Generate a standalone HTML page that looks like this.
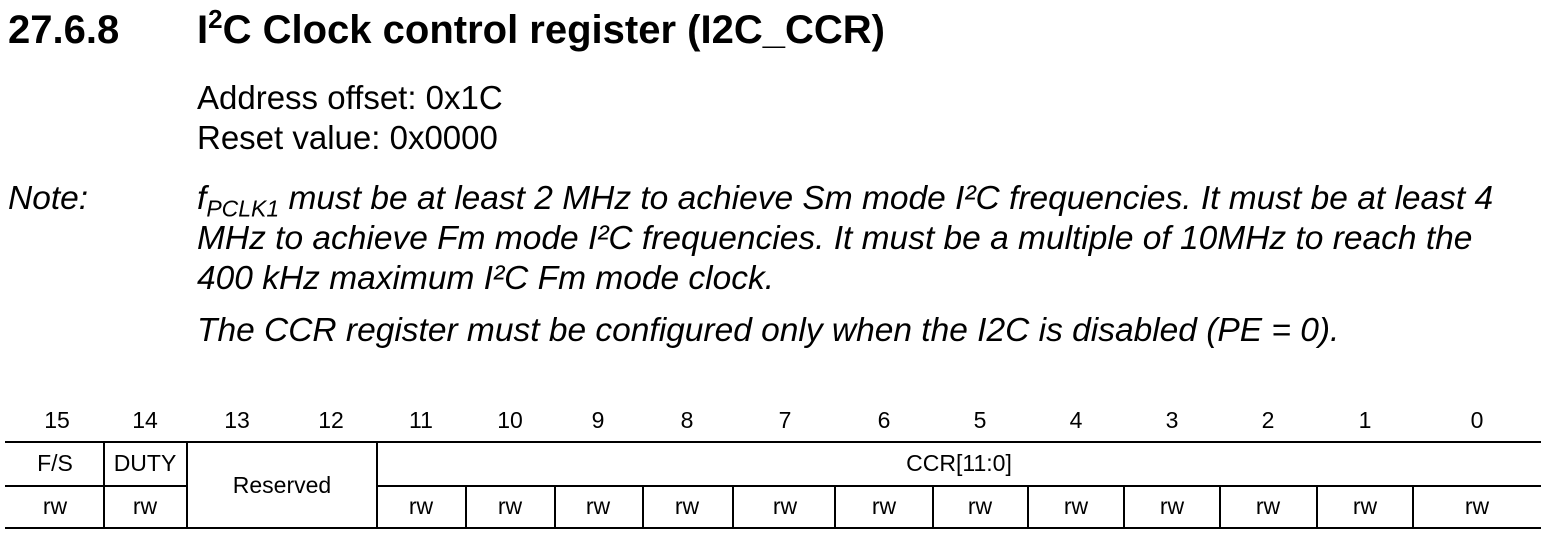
<!DOCTYPE html>
<html><head><style>
body{margin:0;width:1553px;height:542px;background:#fff;position:relative;font-family:"Liberation Sans",Arial,sans-serif;color:#000;overflow:hidden}
.a{position:absolute;white-space:nowrap}
.t{font-weight:bold;font-size:40px}
.b{font-size:33px}
.i{font-style:italic;font-size:33.5px}
.c{position:absolute;text-align:center;font-size:23px;transform:translateX(-50%)}
.h{position:absolute;background:#000}
</style></head><body>
<div class="a t" style="left:8px;top:8px">27.6.8</div>
<div class="a t" style="left:197px;top:8px">I<sup style="font-size:26px;vertical-align:15px;line-height:0">2</sup>C Clock control register (I2C_CCR)</div>
<div class="a b" style="left:197px;top:79px">Address offset: 0x1C</div>
<div class="a b" style="left:197px;top:119px">Reset value: 0x0000</div>
<div class="a i" style="left:8px;top:180px">Note:</div>
<div class="a i" style="left:197px;top:180px">f<sub style="font-size:23px">PCLK1</sub> must be at least 2 MHz to achieve Sm mode I²C frequencies. It must be at least 4</div>
<div class="a i" style="left:197px;top:220px">MHz to achieve Fm mode I²C frequencies. It must be a multiple of 10MHz to reach the</div>
<div class="a i" style="left:197px;top:260px">400 kHz maximum I²C Fm mode clock.</div>
<div class="a i" style="left:197px;top:312px">The CCR register must be configured only when the I2C is disabled (PE = 0).</div>

<div class="c" style="left:57px;top:407px">15</div>
<div class="c" style="left:145px;top:407px">14</div>
<div class="c" style="left:237px;top:407px">13</div>
<div class="c" style="left:331px;top:407px">12</div>
<div class="c" style="left:421px;top:407px">11</div>
<div class="c" style="left:510px;top:407px">10</div>
<div class="c" style="left:598px;top:407px">9</div>
<div class="c" style="left:687px;top:407px">8</div>
<div class="c" style="left:785px;top:407px">7</div>
<div class="c" style="left:884px;top:407px">6</div>
<div class="c" style="left:980px;top:407px">5</div>
<div class="c" style="left:1076px;top:407px">4</div>
<div class="c" style="left:1172px;top:407px">3</div>
<div class="c" style="left:1268px;top:407px">2</div>
<div class="c" style="left:1365px;top:407px">1</div>
<div class="c" style="left:1477px;top:407px">0</div>

<div class="h" style="left:5px;top:441px;width:1536px;height:2px"></div>
<div class="h" style="left:5px;top:485px;width:182px;height:2px"></div>
<div class="h" style="left:377px;top:485px;width:1164px;height:2px"></div>
<div class="h" style="left:5px;top:527px;width:1536px;height:2px"></div>
<div class="h" style="left:103px;top:441px;width:2px;height:88px"></div>
<div class="h" style="left:186px;top:441px;width:2px;height:88px"></div>
<div class="h" style="left:376px;top:441px;width:2px;height:88px"></div>
<div class="h" style="left:465px;top:485px;width:2px;height:44px"></div>
<div class="h" style="left:554px;top:485px;width:2px;height:44px"></div>
<div class="h" style="left:642px;top:485px;width:2px;height:44px"></div>
<div class="h" style="left:732px;top:485px;width:2px;height:44px"></div>
<div class="h" style="left:834px;top:485px;width:2px;height:44px"></div>
<div class="h" style="left:932px;top:485px;width:2px;height:44px"></div>
<div class="h" style="left:1027px;top:485px;width:2px;height:44px"></div>
<div class="h" style="left:1123px;top:485px;width:2px;height:44px"></div>
<div class="h" style="left:1219px;top:485px;width:2px;height:44px"></div>
<div class="h" style="left:1316px;top:485px;width:2px;height:44px"></div>
<div class="h" style="left:1412px;top:485px;width:2px;height:44px"></div>

<div class="c" style="left:55px;top:450px">F/S</div>
<div class="c" style="left:145px;top:450px">DUTY</div>
<div class="c" style="left:282px;top:472px">Reserved</div>
<div class="c" style="left:959px;top:450px">CCR[11:0]</div>
<div class="c" style="left:55px;top:493px">rw</div>
<div class="c" style="left:145px;top:493px">rw</div>
<div class="c" style="left:421px;top:493px">rw</div>
<div class="c" style="left:510px;top:493px">rw</div>
<div class="c" style="left:598px;top:493px">rw</div>
<div class="c" style="left:687px;top:493px">rw</div>
<div class="c" style="left:785px;top:493px">rw</div>
<div class="c" style="left:884px;top:493px">rw</div>
<div class="c" style="left:980px;top:493px">rw</div>
<div class="c" style="left:1076px;top:493px">rw</div>
<div class="c" style="left:1172px;top:493px">rw</div>
<div class="c" style="left:1268px;top:493px">rw</div>
<div class="c" style="left:1365px;top:493px">rw</div>
<div class="c" style="left:1477px;top:493px">rw</div>
</body></html>
